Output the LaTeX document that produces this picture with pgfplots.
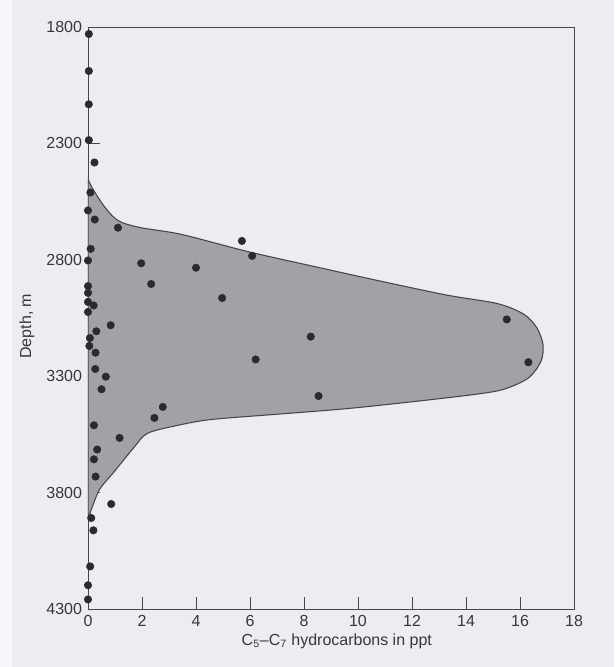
\documentclass[border=0pt]{standalone}
\usepackage{fontspec}
\setmainfont{Liberation Sans}
\usepackage{pgfplots}
\pgfplotsset{compat=1.18}
\definecolor{bgc}{RGB}{237,236,243}
\definecolor{bgl}{RGB}{246,246,249}
\definecolor{fillc}{RGB}{162,162,166}
\definecolor{dotc}{RGB}{40,44,44}
\definecolor{linec}{RGB}{70,70,70}
\definecolor{txtc}{RGB}{55,55,55}
\begin{document}
\begin{tikzpicture}
\path[use as bounding box, fill=bgc] (-66pt,-43.5pt) rectangle (394.5pt,456.75pt);
\fill[bgl] (-66pt,-43.5pt) rectangle (-57pt,456.75pt);
\begin{axis}[
  scale only axis,
  width=364.5pt, height=436.5pt,
  at={(0,0)}, anchor=south west,
  xmin=0, xmax=18, ymin=1800, ymax=4300,
  y dir=reverse,
  xtick={0,2,...,18}, ytick={1800,2300,...,4300},
  tick align=inside, tick pos=left,
  major tick length=9pt,
  axis line style={linec, line width=0.7pt},
  every tick/.style={linec, line width=0.7pt},
  /pgf/number format/assume math mode=true,
  /pgf/number format/set thousands separator={},
  tick label style={font=\fontsize{12}{14}\selectfont, text=txtc},
  label style={font=\fontsize{12}{14}\selectfont, text=txtc},
  yticklabel style={xshift=-1pt},
  xticklabel style={yshift=-1pt},
  xlabel={C\textsubscript{5}–C\textsubscript{7} hydrocarbons in ppt},
  ylabel={Depth, m},
  xlabel style={at={(axis description cs:0.512,-0.055)}, anchor=center},
  ylabel style={at={(axis description cs:-0.1255,0.486)}, anchor=center},
]
\addplot[fill=fillc, draw=linec, line width=0.8pt, smooth, tension=0.5] coordinates {
(0,2454) (0.17,2494) (0.53,2559) (0.89,2610) (1.26,2640) (2.0,2663) (3.47,2691)
(5.93,2765) (8.39,2829) (10.85,2892) (13.31,2952) (15.16,2988) (16.13,3033)
(16.62,3091) (16.85,3164) (16.78,3235) (16.33,3306) (15.46,3354) (14.47,3376)
(11.99,3410) (9.52,3440) (7.04,3463) (4.57,3486) (3.33,3511) (2.21,3545)
(1.71,3605) (0.95,3713) (0.44,3784) (0.18,3855) (0.05,3897) (0,3910)
} -- cycle;
\addplot[only marks, mark=*, mark size=2.8pt, color=dotc] coordinates {
(0.03,1830) (0.03,1989) (0.03,2132) (0.03,2286) (0.24,2382) (0.09,2511)
(0.0,2588) (0.25,2627) (1.11,2662) (0.10,2753) (0.0,2803) (1.97,2815)
(4.00,2834) (2.34,2904) (0.0,2913) (0.0,2942) (0.0,2981) (0.21,2996)
(0.0,3024) (0.84,3081) (0.31,3107) (0.07,3136) (0.05,3170) (0.28,3199)
(0.27,3269) (0.66,3302) (0.50,3356) (2.77,3432) (2.46,3479) (0.22,3511)
(1.17,3565) (0.34,3615) (0.22,3657) (0.28,3731) (0.86,3849) (0.12,3909)
(0.20,3962) (0.08,4117) (0.0,4198) (0.0,4259)
(5.70,2719) (6.08,2783) (4.97,2964) (15.51,3056) (8.25,3130) (16.31,3240)
(6.21,3228) (8.54,3385)
};
\end{axis}
\end{tikzpicture}
\end{document}
